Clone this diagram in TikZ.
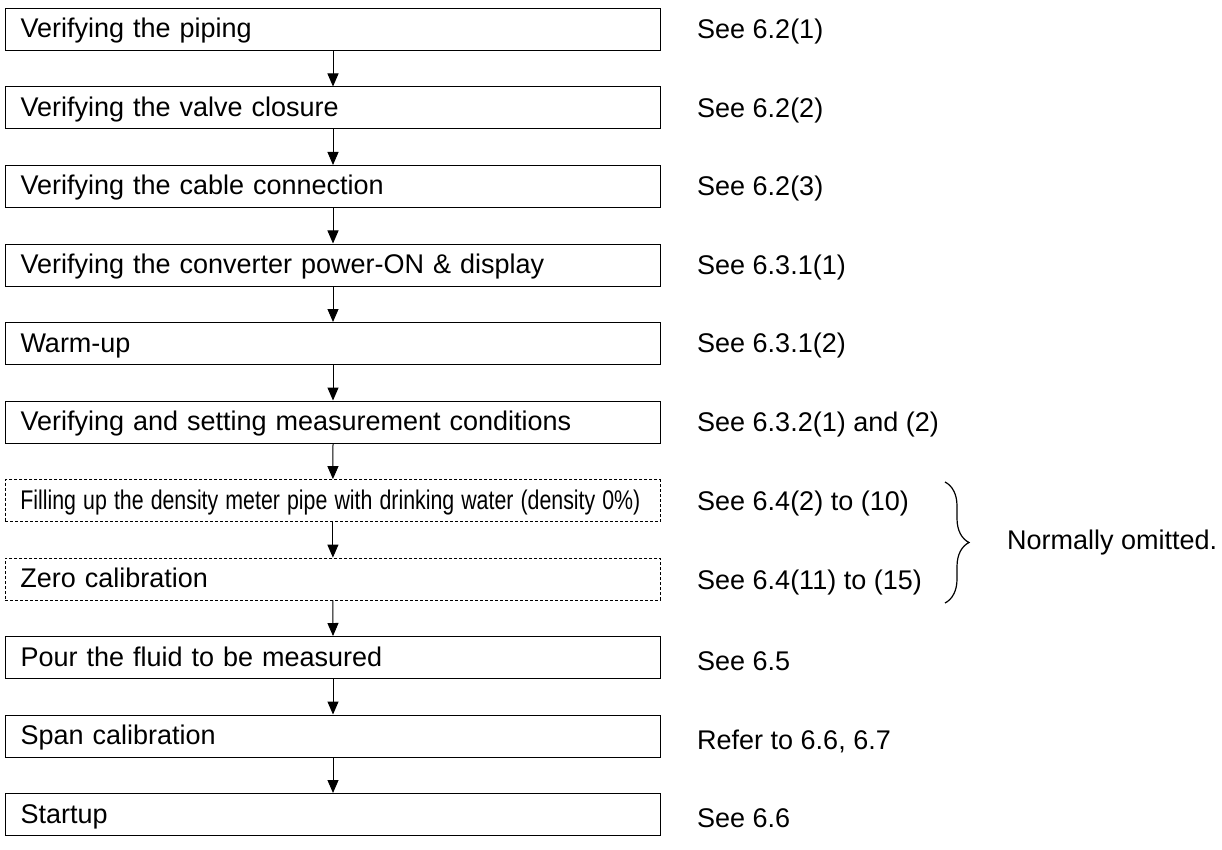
\documentclass[tikz,border=0pt]{standalone}
\usepackage{fontspec}
\setmainfont{Liberation Sans}
\usetikzlibrary{arrows.meta,decorations.pathreplacing}
\newcommand{\boxtxt}[1]{\rule[-8pt]{0pt}{33pt}\smash{#1}}
\begin{document}
\begin{tikzpicture}[x=1pt,y=-1pt,
  stepbox/.style={draw,line width=1pt,minimum height=42pt,text width=625pt,inner xsep=15pt,inner ysep=0pt,align=left,anchor=west,font=\fontsize{27}{29}\selectfont},
  dashbox/.style={stepbox,dash pattern=on 3pt off 2pt,line width=0.8pt},
  ref/.style={anchor=west,inner sep=0pt,font=\fontsize{27}{29}\selectfont},
  flow/.style={-{Triangle[length=13pt,width=11pt]},line width=1pt}]
\useasboundingbox (0,0) rectangle (1222,850);
\node[stepbox] (b1) at (5,29.5) {\boxtxt{Verifying the piping}};
\node[stepbox] (b2) at (5,108) {\boxtxt{Verifying the valve closure}};
\node[stepbox] (b3) at (5,186.5) {\boxtxt{Verifying the cable connection}};
\node[stepbox] (b4) at (5,265) {\boxtxt{Verifying the converter power-ON \& display}};
\node[stepbox] (b5) at (5,343.5) {\boxtxt{Warm-up}};
\node[stepbox] (b6) at (5,422) {\boxtxt{Verifying and setting measurement conditions}};
\node[dashbox] (b7) at (5,500.5) {\boxtxt{\resizebox{620pt}{\height}{Filling up the density meter pipe with drinking water (density 0\%)}}};
\node[dashbox] (b8) at (5,579) {\boxtxt{Zero calibration}};
\node[stepbox] (b9) at (5,657.5) {\boxtxt{Pour the fluid to be measured}};
\node[stepbox] (b10) at (5,736) {\boxtxt{Span calibration}};
\node[stepbox] (b11) at (5,814.5) {\boxtxt{Startup}};
\foreach \a/\b in {b1/b2,b2/b3,b3/b4,b4/b5,b5/b6,b6/b7,b7/b8,b8/b9,b9/b10,b10/b11}
  \draw[flow] (\a.south) -- (\b.north);
\node[ref] (r1) at (697,32) {See 6.2(1)};
\node[ref] (r2) at (697,111) {See 6.2(2)};
\node[ref] (r3) at (697,189) {See 6.2(3)};
\node[ref] (r4) at (697,268) {See 6.3.1(1)};
\node[ref] (r5) at (697,346) {See 6.3.1(2)};
\node[ref] (r6) at (697,425) {See 6.3.2(1) and (2)};
\node[ref] (r7) at (697,504) {See 6.4(2) to (10)};
\node[ref] (r8) at (697,583) {See 6.4(11) to (15)};
\node[ref] (r9) at (697,661) {See 6.5};
\node[ref] (r10) at (697,741) {Refer to 6.6, 6.7};
\node[ref] (r11) at (697,818) {See 6.6};
\coordinate (bt) at (945,482);
\coordinate (bb) at (945,603);
\draw[line width=1.2pt,decorate,decoration={brace,amplitude=24pt}] (bt) -- (bb);
\node[ref] (om) at (1007,543) {Normally omitted.};
\end{tikzpicture}
\end{document}
